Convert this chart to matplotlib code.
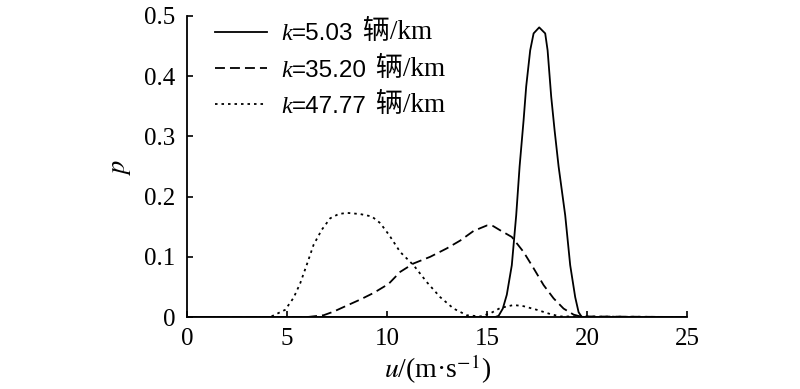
import matplotlib
matplotlib.use("Agg")
import matplotlib.pyplot as plt

plt.rcParams['font.family'] = ['Liberation Serif', 'Noto Sans CJK SC']
plt.rcParams['mathtext.fontset'] = 'stix'

# k = 5.03 veh/km (solid)
u1 = [0, 15.4, 15.57, 15.78, 15.98, 16.23, 16.45, 16.62, 16.82, 16.95, 17.15, 17.32, 17.6,
      17.9, 18.02, 18.2, 18.37, 18.57, 18.9, 19.15, 19.4, 19.57, 19.73, 25]
p1 = [0, 0, 0.002, 0.014, 0.037, 0.086, 0.169, 0.25, 0.327, 0.383, 0.443, 0.471, 0.481,
      0.471, 0.443, 0.366, 0.31, 0.25, 0.169, 0.086, 0.033, 0.008, 0, 0]

# k = 35.20 veh/km (dashed)
u2 = [0, 6.0, 6.82, 7.32, 7.98, 8.65, 9.32, 10.07, 10.65, 11.32, 12.15, 12.98, 13.65,
      14.32, 14.98, 15.3, 15.65, 16.23, 16.82, 17.32, 17.82, 18.32, 18.82, 19.32, 19.65, 25]
p2 = [0, 0, 0.003, 0.009, 0.019, 0.029, 0.04, 0.055, 0.075, 0.089, 0.1, 0.114, 0.127,
      0.143, 0.152, 0.151, 0.144, 0.133, 0.108, 0.081, 0.053, 0.031, 0.014, 0.004, 0.001, 0]

# k = 47.77 veh/km (dotted)
u3 = [0, 4.15, 4.9, 5.32, 5.65, 5.98, 6.32, 6.73, 7.15, 7.57, 7.98, 8.65, 9.23, 9.65,
      10.1, 10.65, 11.32, 11.98, 12.65, 13.32, 13.98, 14.65, 15.15, 15.65, 16.32, 16.82,
      17.48, 18.15, 18.65, 25]
p3 = [0, 0, 0.012, 0.032, 0.056, 0.087, 0.12, 0.145, 0.164, 0.171, 0.173, 0.171, 0.167, 0.156,
      0.136, 0.108, 0.086, 0.058, 0.033, 0.014, 0.003, 0.001, 0.006, 0.015, 0.02, 0.018,
      0.012, 0.005, 0.001, 0]

k_values = ['5.03', '35.20', '47.77']
unit = '辆/km'
xticks = [0, 5, 10, 15, 20, 25]
yticks = [0, 0.1, 0.2, 0.3, 0.4, 0.5]
ytick_labels = ['0', '0.1', '0.2', '0.3', '0.4', '0.5']

fig = plt.figure(figsize=(8, 3.89), dpi=100)
ax = fig.add_axes([0.234, 0.185, 0.625, 0.774])

lw = 1.3
ax.plot(u1, p1, color='black', lw=lw, linestyle='-', label='=' + k_values[0])
ax.plot(u2, p2, color='black', lw=lw, linestyle=(0, (5.5, 2.8)), label='=' + k_values[1])
ax.plot(u3, p3, color='black', lw=lw, linestyle=(0, (1.4, 2.2)), label='=' + k_values[2])

ax.set_xlim(0, 25)
ax.set_ylim(0, 0.5)
ax.set_xticks(xticks)
ax.set_xticklabels([str(t) for t in xticks])
ax.set_yticks(yticks)
ax.set_yticklabels(ytick_labels)

for s in ['top', 'right']:
    ax.spines[s].set_visible(False)
for s in ['left', 'bottom']:
    ax.spines[s].set_linewidth(1.3)

ax.tick_params(direction='in', length=4, width=1.2, labelsize=18)
ax.tick_params(axis='y', pad=8.5)
ax.tick_params(axis='x', pad=8)

ax.set_xlabel('$u$/(m·s$^{-1}$)', fontsize=20, labelpad=2)
ax.set_ylabel('$p$', fontsize=19, labelpad=8)

legfs = 17.5
leg = ax.legend(loc='upper left', bbox_to_anchor=(0.056, 0.975), frameon=False,
                prop={'family': 'Liberation Sans', 'size': legfs},
                handlelength=2.14, handletextpad=1.0, labelspacing=0.58,
                borderaxespad=0, borderpad=0)
leg.set_zorder(5)

for t in leg.get_texts():
    ax.annotate('k', xy=(0, 0), xycoords=t, ha='right', va='bottom',
                fontsize=legfs, family='Liberation Serif', style='italic',
                xytext=(0.5, 0), textcoords='offset points', zorder=10)
    ax.annotate(' ' + unit, xy=(1, 0), xycoords=t, ha='left', va='bottom',
                fontsize=19.5, family=['Liberation Serif', 'Noto Sans CJK SC'],
                xytext=(2, 0), textcoords='offset points', zorder=10)

fig.savefig('out.png', dpi=100)
